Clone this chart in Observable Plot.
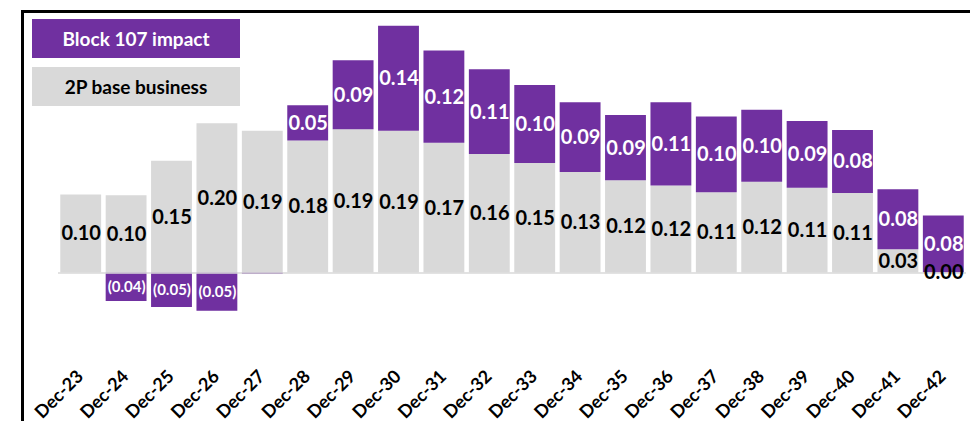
<!DOCTYPE html>
<html>
<head>
<meta charset="utf-8">
<script src="https://cdn.jsdelivr.net/npm/d3@7"></script>
<script src="https://cdn.jsdelivr.net/npm/@observablehq/plot@0.6"></script>
<style>
  body { margin: 0; background: #fff; }
  #wrap { position: relative; width: 970px; height: 421px; overflow: hidden; font-family: Lato, "Open Sans", sans-serif; }
  #chart { position: absolute; left: 0; top: 0; }
  .frame-top { position: absolute; left: 21px; top: 10px; width: 949px; height: 2.5px; background: #000; }
  .frame-left { position: absolute; left: 21px; top: 10px; width: 2.5px; height: 411px; background: #000; }
  .leg { position: absolute; left: 32px; width: 208px; height: 39px; display: flex; align-items: center; justify-content: center; font-weight: bold; font-size: 19px; }
</style>
</head>
<body>
<div id="wrap">
  <div id="chart"></div>
  <div class="frame-top"></div>
  <div class="frame-left"></div>
  <div class="leg" style="top:19px;background:#7030A0;color:#fff;">Block 107 impact</div>
  <div class="leg" style="top:67px;background:#D9D9D9;color:#000;">2P base business</div>
</div>
<script>
const categories = ["Dec-23","Dec-24","Dec-25","Dec-26","Dec-27","Dec-28","Dec-29","Dec-30","Dec-31","Dec-32",
                    "Dec-33","Dec-34","Dec-35","Dec-36","Dec-37","Dec-38","Dec-39","Dec-40","Dec-41","Dec-42"];
const baseBusiness = [0.104,0.103,0.149,0.199,0.189,0.176,0.191,0.189,0.173,0.158,
                      0.146,0.134,0.123,0.116,0.107,0.121,0.113,0.106,0.031,0.000];
const block107Impact = [0,-0.038,-0.046,-0.051,-0.002,0.047,0.092,0.140,0.123,0.113,
                        0.104,0.093,0.087,0.111,0.101,0.096,0.089,0.084,0.080,0.076];
const seriesColors = {base: "#D9D9D9", impact: "#7030A0"};

const rows = [];
categories.forEach((c, i) => {
  const b = baseBusiness[i], v = block107Impact[i];
  rows.push({cat: c, series: "base", value: b, y1: 0, y2: b});
  if (v >= 0) rows.push({cat: c, series: "impact", value: v, y1: b, y2: b + v});
  else rows.push({cat: c, series: "impact", value: v, y1: v, y2: 0});
});
const fmt = v => v < 0 ? `(${Math.abs(v).toFixed(2)})` : v.toFixed(2);
const baseRows = rows.filter(d => d.series === "base");
const posImpact = rows.filter(d => d.series === "impact" && d.value >= 0.005);
const negImpact = rows.filter(d => d.series === "impact" && d.value <= -0.005);

const chart = Plot.plot({
  width: 970,
  height: 421,
  marginLeft: 58,
  marginRight: 4,
  marginTop: 20,
  marginBottom: 56,
  style: {fontFamily: "Lato, 'Open Sans', sans-serif", fontWeight: "bold", background: "transparent"},
  x: {domain: categories, paddingInner: 0.1, paddingOuter: 0.05, align: 0.5, round: false, label: null},
  y: {domain: [-0.12333, 0.33667], axis: null},
  marks: [
    Plot.barY(rows, {x: "cat", y1: "y1", y2: "y2", fill: d => seriesColors[d.series]}),
    Plot.ruleY([0], {stroke: "#D9D9D9", strokeWidth: 1.5}),
    Plot.text(baseRows, {x: "cat", y: d => (d.y1 + d.y2) / 2, text: d => fmt(d.value), fill: "#000", fontSize: 20, fontWeight: "bold"}),
    Plot.text(posImpact, {x: "cat", y: d => (d.y1 + d.y2) / 2, text: d => fmt(d.value), fill: "#fff", fontSize: 20, fontWeight: "bold"}),
    Plot.text(negImpact, {x: "cat", y: d => (d.y1 + d.y2) / 2, text: d => fmt(d.value), fill: "#fff", fontSize: 15, fontWeight: "bold"}),
    Plot.axisX({tickSize: 0, tickRotate: -45, tickPadding: 8, dx: -1, fontSize: 18, fontWeight: "bold", label: null})
  ]
});
document.getElementById("chart").appendChild(chart);
</script>
</body>
</html>
